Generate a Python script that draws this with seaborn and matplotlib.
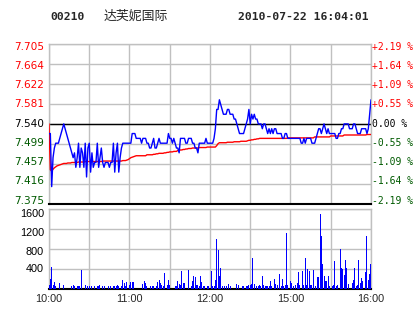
import numpy as np
import pandas as pd
import matplotlib
matplotlib.use("Agg")
import matplotlib.pyplot as plt
import matplotlib.transforms as mtransforms
import seaborn as sns

stock_code = "00210"
stock_name = "达芙妮国际"
stamp = "2010-07-22 16:04:01"
prev_close = 7.540
price_ticks = [7.375, 7.416, 7.457, 7.499, 7.540, 7.581, 7.622, 7.664, 7.705]
price_tick_labels = ["7.375", "7.416", "7.457", "7.499", "7.540", "7.581", "7.622", "7.664", "7.705"]
pct_labels = ["-2.19 %", "-1.64 %", "-1.09 %", "-0.55 %", "0.00 %",
              "+0.55 %", "+1.09 %", "+1.64 %", "+2.19 %"]
vol_ticks = [400, 800, 1200, 1600]
time_ticks = [0, 60, 120, 180, 240]
time_labels = ["10:00", "11:00", "12:00", "15:00", "16:00"]

# one value per trading minute (0 = 10:00, 240 = 16:00)
price = [
    7.52, 7.52, 7.41, 7.47, 7.49, 7.50, 7.50, 7.50, 7.51, 7.52,   # 0-9
    7.53, 7.54, 7.53, 7.52, 7.51, 7.50, 7.49, 7.48, 7.47, 7.48,   # 10-19
    7.45, 7.47, 7.50, 7.45, 7.49, 7.48, 7.45, 7.50, 7.43, 7.49,   # 20-29
    7.50, 7.44, 7.48, 7.45, 7.46, 7.46, 7.50, 7.45, 7.47, 7.49,   # 30-39
    7.46, 7.45, 7.46, 7.46, 7.46, 7.45, 7.46, 7.46, 7.50, 7.44,   # 40-49
    7.48, 7.50, 7.44, 7.47, 7.49, 7.50, 7.50, 7.50, 7.50, 7.50,   # 50-59
    7.50, 7.50, 7.52, 7.52, 7.52, 7.51, 7.51, 7.51, 7.51, 7.50,   # 60-69
    7.51, 7.51, 7.51, 7.50, 7.50, 7.49, 7.49, 7.50, 7.51, 7.49,   # 70-79
    7.49, 7.50, 7.51, 7.50, 7.50, 7.50, 7.50, 7.50, 7.50, 7.52,   # 80-89
    7.51, 7.51, 7.50, 7.51, 7.50, 7.49, 7.49, 7.48, 7.51, 7.51,   # 90-99
    7.51, 7.51, 7.50, 7.50, 7.51, 7.51, 7.51, 7.50, 7.50, 7.49,   # 100-109
    7.49, 7.48, 7.50, 7.50, 7.50, 7.50, 7.50, 7.51, 7.50, 7.50,   # 110-119
    7.50, 7.50, 7.50, 7.51, 7.53, 7.57, 7.57, 7.59, 7.58, 7.57,   # 120-129
    7.56, 7.56, 7.56, 7.57, 7.57, 7.56, 7.56, 7.56, 7.55, 7.55,   # 130-139
    7.54, 7.53, 7.52, 7.52, 7.52, 7.52, 7.53, 7.54, 7.55, 7.57,   # 140-149
    7.54, 7.56, 7.55, 7.56, 7.55, 7.55, 7.54, 7.54, 7.54, 7.53,   # 150-159
    7.54, 7.54, 7.53, 7.52, 7.53, 7.52, 7.53, 7.52, 7.53, 7.53,   # 160-169
    7.52, 7.52, 7.52, 7.52, 7.51, 7.51, 7.52, 7.52, 7.51, 7.51,   # 170-179
    7.51, 7.51, 7.51, 7.51, 7.51, 7.51, 7.51, 7.51, 7.50, 7.50,   # 180-189
    7.51, 7.50, 7.51, 7.51, 7.51, 7.51, 7.50, 7.50, 7.50, 7.51,   # 190-199
    7.52, 7.53, 7.53, 7.52, 7.53, 7.54, 7.53, 7.52, 7.53, 7.52,   # 200-209
    7.52, 7.52, 7.52, 7.52, 7.51, 7.51, 7.52, 7.52, 7.53, 7.53,   # 210-219
    7.54, 7.54, 7.54, 7.54, 7.53, 7.53, 7.53, 7.54, 7.54, 7.53,   # 220-229
    7.52, 7.52, 7.52, 7.53, 7.53, 7.53, 7.53, 7.52, 7.53, 7.56,   # 230-239
    7.59,                                                         # 240
]

avg_price = [
    7.540, 7.445, 7.442, 7.446, 7.449, 7.451, 7.453, 7.454, 7.455, 7.456,   # 0-9
    7.457, 7.458, 7.458, 7.458, 7.459, 7.459, 7.459, 7.460, 7.460, 7.460,   # 10-19
    7.460, 7.460, 7.461, 7.461, 7.461, 7.461, 7.461, 7.462, 7.462, 7.462,   # 20-29
    7.462, 7.462, 7.462, 7.462, 7.462, 7.462, 7.462, 7.462, 7.462, 7.462,   # 30-39
    7.463, 7.463, 7.463, 7.463, 7.463, 7.463, 7.463, 7.463, 7.463, 7.463,   # 40-49
    7.463, 7.463, 7.463, 7.463, 7.463, 7.464, 7.464, 7.464, 7.465, 7.466,   # 50-59
    7.468, 7.470, 7.471, 7.472, 7.473, 7.474, 7.474, 7.474, 7.474, 7.474,   # 60-69
    7.474, 7.474, 7.474, 7.476, 7.476, 7.476, 7.476, 7.476, 7.477, 7.477,   # 70-79
    7.478, 7.478, 7.479, 7.479, 7.479, 7.479, 7.480, 7.480, 7.481, 7.481,   # 80-89
    7.482, 7.482, 7.482, 7.483, 7.483, 7.483, 7.485, 7.485, 7.486, 7.486,   # 90-99
    7.487, 7.487, 7.488, 7.488, 7.489, 7.489, 7.489, 7.490, 7.490, 7.490,   # 100-109
    7.490, 7.490, 7.491, 7.491, 7.491, 7.491, 7.491, 7.491, 7.492, 7.492,   # 110-119
    7.492, 7.492, 7.492, 7.492, 7.492, 7.495, 7.499, 7.501, 7.501, 7.501,   # 120-129
    7.501, 7.501, 7.501, 7.502, 7.502, 7.502, 7.502, 7.502, 7.503, 7.503,   # 130-139
    7.503, 7.503, 7.503, 7.504, 7.504, 7.504, 7.504, 7.504, 7.505, 7.506,   # 140-149
    7.506, 7.507, 7.507, 7.508, 7.508, 7.509, 7.509, 7.510, 7.510, 7.510,   # 150-159
    7.510, 7.510, 7.510, 7.510, 7.510, 7.510, 7.510, 7.510, 7.510, 7.510,   # 160-169
    7.510, 7.510, 7.510, 7.510, 7.510, 7.510, 7.510, 7.510, 7.511, 7.511,   # 170-179
    7.511, 7.511, 7.511, 7.511, 7.511, 7.511, 7.511, 7.511, 7.511, 7.511,   # 180-189
    7.511, 7.511, 7.511, 7.511, 7.511, 7.511, 7.511, 7.511, 7.513, 7.513,   # 190-199
    7.513, 7.513, 7.513, 7.513, 7.513, 7.513, 7.513, 7.513, 7.513, 7.513,   # 200-209
    7.515, 7.515, 7.515, 7.515, 7.515, 7.515, 7.515, 7.515, 7.515, 7.515,   # 210-219
    7.517, 7.517, 7.517, 7.517, 7.517, 7.517, 7.517, 7.517, 7.517, 7.517,   # 220-229
    7.517, 7.517, 7.517, 7.517, 7.517, 7.517, 7.517, 7.518, 7.518, 7.518,   # 230-239
    7.518,                                                                  # 240
]

vol_minute = [
    0, 1, 2, 3, 4, 5, 8, 11, 17, 18, 19, 21, 22, 23, 24, 27, 29, 30, 32, 34,
    36, 37, 38, 40, 41, 44, 46, 48, 49, 50, 51, 52, 54, 55, 56, 57, 58, 60, 61, 62,
    63, 70, 71, 72, 73, 76, 77, 78, 80, 81, 82, 83, 84, 85, 86, 88, 89, 90, 94, 95,
    96, 97, 98, 99, 100, 101, 104, 106, 107, 108, 109, 110, 111, 112, 113, 114, 115, 116, 118, 119,
    121, 122, 123, 124, 125, 126, 127, 128, 129, 131, 132, 134, 135, 140, 141, 144, 145, 147, 148, 149,
    150, 151, 152, 153, 155, 156, 157, 158, 159, 160, 161, 162, 163, 164, 165, 166, 168, 169, 170, 172,
    173, 174, 175, 176, 177, 178, 180, 181, 182, 184, 185, 186, 187, 189, 190, 191, 192, 193, 194, 195,
    196, 197, 199, 200, 201, 202, 203, 204, 205, 206, 207, 208, 209, 211, 212, 213, 214, 215, 217, 218,
    219, 220, 221, 222, 223, 226, 227, 228, 229, 230, 231, 232, 233, 234, 236, 237, 238, 239, 240,
]
vol_value = [
    70, 190, 440, 70, 125, 50, 110, 70, 50, 70, 50, 50, 50, 50, 380, 70, 50, 50, 50, 50,
    50, 50, 70, 50, 50, 50, 50, 50, 50, 50, 70, 50, 50, 170, 110, 50, 125, 70, 125, 125,
    125, 90, 150, 110, 50, 50, 50, 50, 50, 125, 170, 110, 70, 50, 320, 70, 170, 70, 50, 50,
    150, 90, 70, 360, 110, 110, 380, 50, 150, 255, 235, 70, 70, 50, 255, 130, 50, 50, 50, 50,
    350, 50, 50, 170, 1000, 775, 250, 405, 50, 50, 50, 100, 50, 100, 70, 50, 50, 50, 50, 80,
    80, 100, 610, 100, 50, 50, 80, 50, 250, 70, 50, 50, 50, 50, 150, 50, 190, 100, 70, 285,
    50, 190, 50, 70, 1115, 70, 150, 120, 50, 70, 120, 340, 80, 350, 70, 620, 80, 390, 350, 80,
    80, 370, 50, 235, 235, 1505, 1060, 490, 250, 150, 150, 250, 50, 50, 80, 550, 50, 80, 800, 420,
    390, 270, 575, 420, 100, 120, 170, 420, 50, 80, 575, 120, 215, 150, 340, 1060, 180, 285, 485,
]

RED = "#FF0000"
GREEN = "#005A00"
BLUE = "#0000FF"
GRID = "#C0C0C0"

sns.set_style("white")
plt.rcParams["font.family"] = ["DejaVu Sans", "Noto Sans CJK SC"]

W, H = 414, 314
fig = plt.figure(figsize=(W / 100, H / 100), dpi=100)
fig.patch.set_facecolor("white")

ax = fig.add_axes([49 / W, 1 - 203.5 / H, 322 / W, 159.2 / H])
axv = fig.add_axes([49 / W, 1 - 288.5 / H, 322 / W, 79.2 / H])

price_df = pd.DataFrame({"minute": np.arange(len(price)), "price": price})
avg_df = pd.DataFrame({"minute": np.arange(len(avg_price)), "avg": avg_price})


def px_shift(dx, dy):
    """pixel offset (dy positive = downwards)"""
    return mtransforms.ScaledTranslation(dx / 100, -dy / 100, fig.dpi_scale_trans)


for a in (ax, axv):
    a.set_xlim(0, 240)
    a.set_xticks(np.arange(0, 241, 30))
    a.grid(True, color=GRID, lw=1.0, zorder=0)
    a.set_axisbelow(True)
    for s in ("top", "left", "right"):
        a.spines[s].set_color(GRID)
        a.spines[s].set_linewidth(1.0)
    a.spines["bottom"].set_color("black")
    a.spines["bottom"].set_linewidth(1.5)
    a.tick_params(length=0)

ax.set_ylim(price_ticks[0], price_ticks[-1])
ax.set_yticks(price_ticks)
ax.axhline(prev_close, color="black", lw=1.0, zorder=2)

sns.lineplot(data=avg_df, x="minute", y="avg", ax=ax, color=RED, lw=1.0,
             estimator=None, zorder=3)
sns.lineplot(data=price_df, x="minute", y="price", ax=ax, color=BLUE, lw=1.0,
             estimator=None, zorder=4)
ax.set_xlabel("")
ax.set_ylabel("")
ax.set_xticklabels([])
ax.set_yticklabels([])


def lvl_color(v):
    if abs(v - prev_close) < 1e-6:
        return "black"
    return RED if v > prev_close else GREEN


ytr = ax.get_yaxis_transform()
n = len(price_ticks) - 1
for i, (v, lab, pl) in enumerate(zip(price_ticks, price_tick_labels, pct_labels)):
    down = -3.0 + 5.4 * i / n
    ax.text(0, v, lab, transform=ytr + px_shift(-5, down), ha="right", va="center",
            fontsize=7.6, family="DejaVu Sans", color=lvl_color(v), clip_on=False)
    ax.text(1, v, pl, transform=ytr + px_shift(1, down), ha="left", va="center",
            fontsize=7.0, family="DejaVu Sans Mono", color=lvl_color(v), clip_on=False)

# volume
sns.barplot(x=vol_minute, y=vol_value, ax=axv, native_scale=True, color=BLUE,
            saturation=1, width=0.75, linewidth=0, zorder=3)
axv.set_xlim(0, 240)
axv.set_ylim(0, 1600)
axv.set_yticks(vol_ticks)
axv.set_yticklabels([])
vtr = axv.get_yaxis_transform()
vol_down = {400: 0.7, 800: 2.7, 1200: 3.4, 1600: 4.4}
for v in vol_ticks:
    axv.text(0, v, str(v), transform=vtr + px_shift(-5, vol_down[v]), ha="right",
             va="center", fontsize=7.8, family="Liberation Sans", color="black",
             clip_on=False)
axv.set_xticks(np.arange(0, 241, 30))
axv.set_xticklabels([time_labels[time_ticks.index(t)] if t in time_ticks else ""
                     for t in range(0, 241, 30)], fontsize=7.8, family="Liberation Sans")
axv.tick_params(axis="x", pad=4)
axv.set_xlabel("")
axv.set_ylabel("")

# header
fig.text(50 / W, 1 - 17 / H, stock_code, family="DejaVu Sans Mono", weight="bold",
         fontsize=8.2, va="center", ha="left")
fig.text(104 / W, 1 - 16 / H, stock_name, family=["Noto Sans CJK SC"],
         fontsize=9.3, va="center", ha="left")
fig.text(238 / W, 1 - 17 / H, stamp, family="DejaVu Sans Mono", weight="bold",
         fontsize=8.2, va="center", ha="left")

fig.savefig("out.png", dpi=100, facecolor="white")
